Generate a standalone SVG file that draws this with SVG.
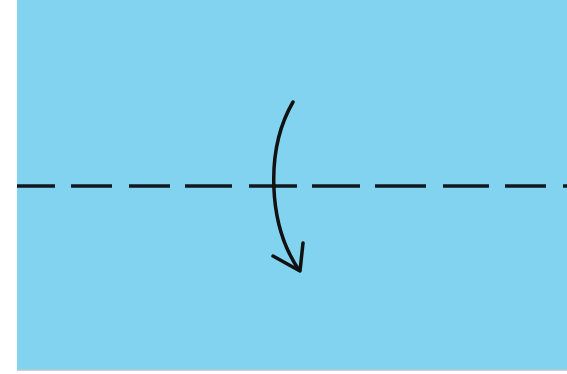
<svg xmlns="http://www.w3.org/2000/svg" width="567" height="374" viewBox="0 0 567 374">
<style>
.fold{stroke:#111820;stroke-width:3.5;stroke-linecap:butt}
.arrow{stroke:#111111;stroke-width:3.5;fill:none;stroke-linecap:round;stroke-linejoin:round}
</style>
<rect width="567" height="374" fill="#ffffff"/>
<g id="paper">
<rect x="17" y="0" width="550" height="370" fill="#82d3ef"/>
<line x1="17" y1="370" x2="567" y2="370" stroke="#b9c6cc" stroke-width="1.5"/>
</g>
<g id="connectors">
<g id="fold-line" class="fold">
<line x1="17" y1="186" x2="55" y2="186"/>
<line x1="71" y1="186" x2="112" y2="186"/>
<line x1="129" y1="186" x2="170" y2="186"/>
<line x1="185" y1="186" x2="232" y2="186"/>
<line x1="249" y1="186" x2="297" y2="186"/>
<line x1="312" y1="186" x2="360" y2="186"/>
<line x1="375" y1="186" x2="426" y2="186"/>
<line x1="443" y1="186" x2="489" y2="186"/>
<line x1="505" y1="186" x2="546" y2="186"/>
<line x1="563" y1="186" x2="567" y2="186"/>
</g>
<g id="fold-arrow" class="arrow">
<path d="M293,102 C265,150 268,225 299,270"/>
<path d="M273,256 L300,271 L303,243"/>
</g>
</g>
</svg>
